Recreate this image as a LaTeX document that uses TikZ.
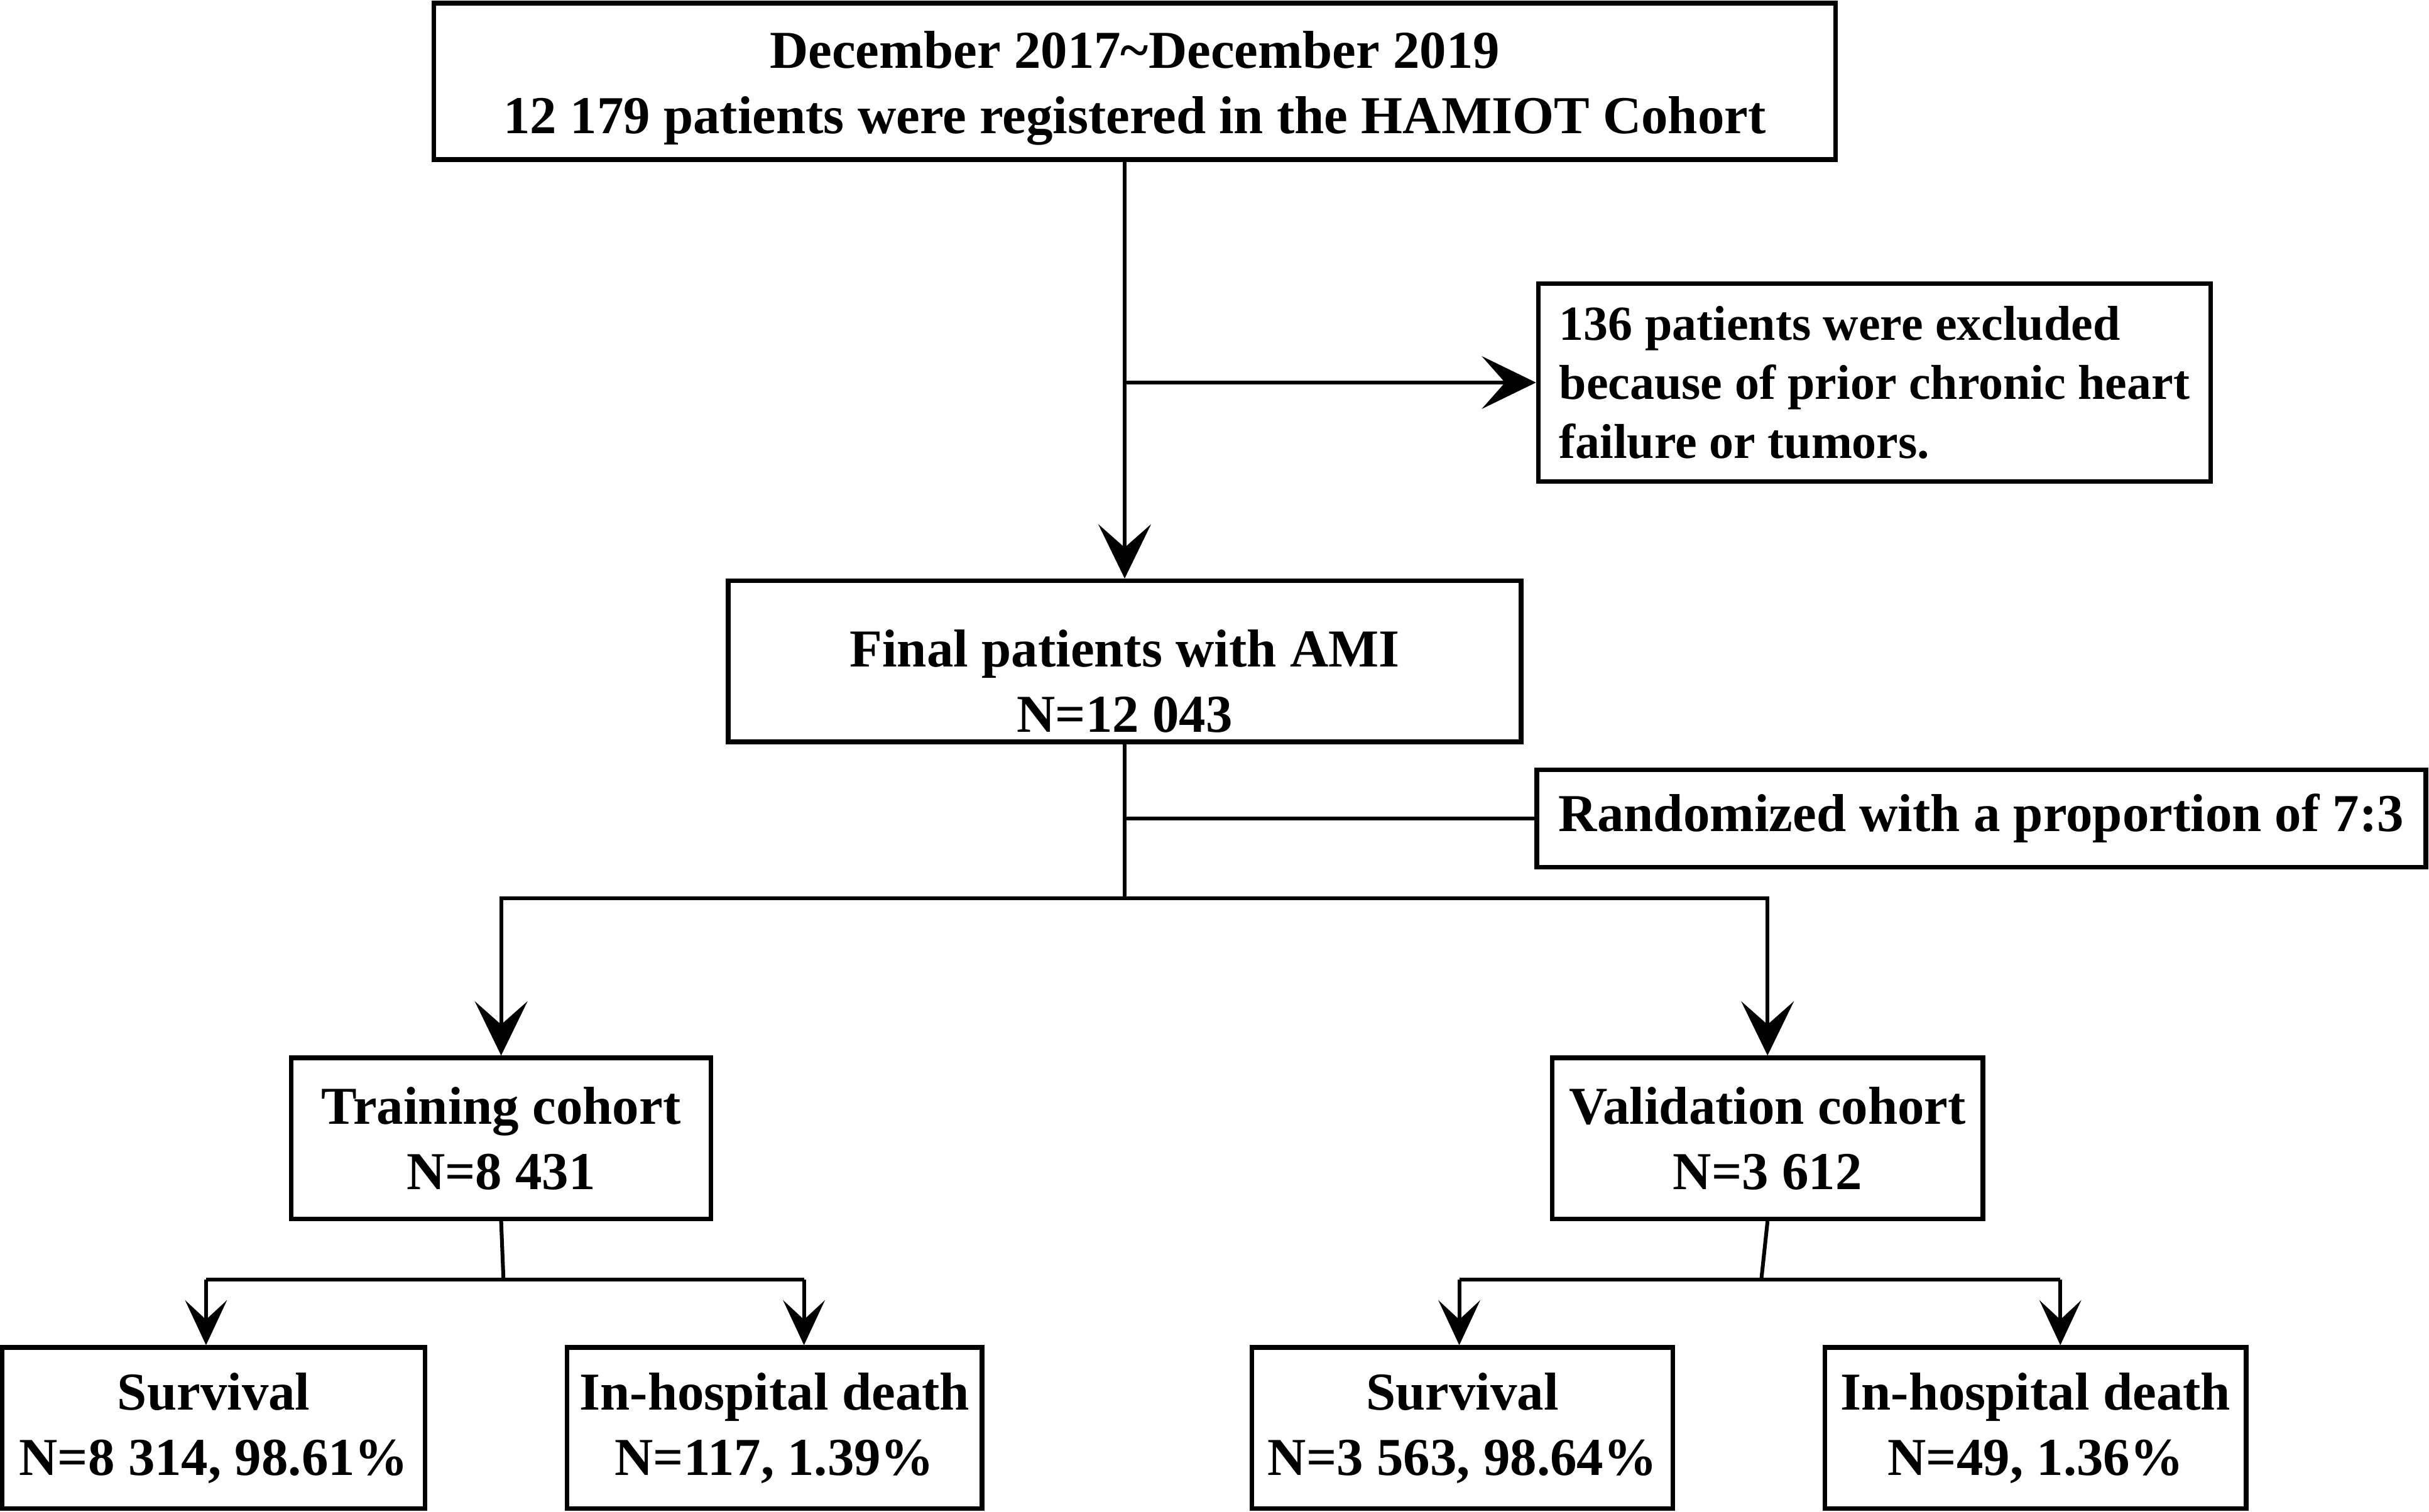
\documentclass[tikz,border=0pt]{standalone}
\usepackage{fontspec}
\setmainfont{Liberation Serif}
\usetikzlibrary{arrows.meta}

\begin{document}
\begin{tikzpicture}[x=0.02cm, y=-0.02cm,
    box/.style={draw=black, line width=1.7pt, align=center, inner sep=0pt, font=\fontsize{19.6}{24}\selectfont\bfseries},
    bigarrow/.style={-{Stealth[length=0.7cm, width=0.68cm, inset=0.3cm]}, line width=1.4pt},
    smallarrow/.style={-{Stealth[length=0.58cm, width=0.54cm, inset=0.25cm]}, line width=1.4pt},
    link/.style={line width=1.4pt}]
    \useasboundingbox (0,0) rectangle (1568,976);
    \node[box, minimum width=18.1cm, minimum height=2.02cm] at (732.5,52.5) (reg) {\rule{0pt}{18.5pt}December 2017\textasciitilde December 2019\\12 179 patients were registered in the HAMIOT Cohort};
    \node[box, align=left, minimum width=8.68cm, minimum height=2.56cm, font=\fontsize{18}{21.6}\selectfont\bfseries] at (1210,247) (excl) {136 patients were excluded\\because of prior chronic heart\\failure or tumors.};
    \node[box, minimum width=10.24cm, minimum height=2.08cm] at (726,427) (ami) {\rule{0pt}{28pt}Final patients with AMI\\N=12 043};
    \node[box, minimum width=11.48cm, minimum height=1.26cm] at (1279,528.5) (rand) {Randomized with a proportion of 7:3};
    \node[box, minimum width=5.42cm, minimum height=2.08cm] at (323.5,735) (train) {Training cohort\\N=8 431};
    \node[box, minimum width=5.56cm, minimum height=2.08cm] at (1141,735) (valid) {Validation cohort\\N=3 612};
    \node[box, minimum width=5.46cm, minimum height=2.08cm] at (138,922) (trsurv) {Survival\\N=8 314, 98.61\%};
    \node[box, minimum width=5.36cm, minimum height=2.08cm] at (500,922) (trdeath) {In-hospital death\\N=117, 1.39\%};
    \node[box, minimum width=5.44cm, minimum height=2.08cm] at (944,922) (vasurv) {Survival\\N=3 563, 98.64\%};
    \node[box, minimum width=5.44cm, minimum height=2.08cm] at (1314,922) (vadeath) {In-hospital death\\N=49, 1.36\%};
    \coordinate (split) at (726,580);
    \coordinate (trsplit) at (325,826);
    \coordinate (trleft) at (133,826);
    \coordinate (trright) at (519,826);
    \coordinate (vasplit) at (1137,826);
    \coordinate (valeft) at (942,826);
    \coordinate (varight) at (1330,826);
    \draw[bigarrow] (reg.south -| ami.north) -- (ami.north);
    \draw[bigarrow] (ami.north |- excl.west) -- (excl.west);
    \draw[link] (ami.south) -- (split);
    \draw[link] (ami.south |- rand.west) -- (rand.west);
    \draw[bigarrow] (split) -| (train.north);
    \draw[bigarrow] (split) -| (valid.north);
    \draw[link] (train.south) -- (trsplit);
    \draw[link] (trleft) -- (trright);
    \draw[smallarrow] (trleft) -- (trleft |- trsurv.north);
    \draw[smallarrow] (trright) -- (trright |- trdeath.north);
    \draw[link] (valid.south) -- (vasplit);
    \draw[link] (valeft) -- (varight);
    \draw[smallarrow] (valeft) -- (valeft |- vasurv.north);
    \draw[smallarrow] (varight) -- (varight |- vadeath.north);
\end{tikzpicture}
\end{document}
